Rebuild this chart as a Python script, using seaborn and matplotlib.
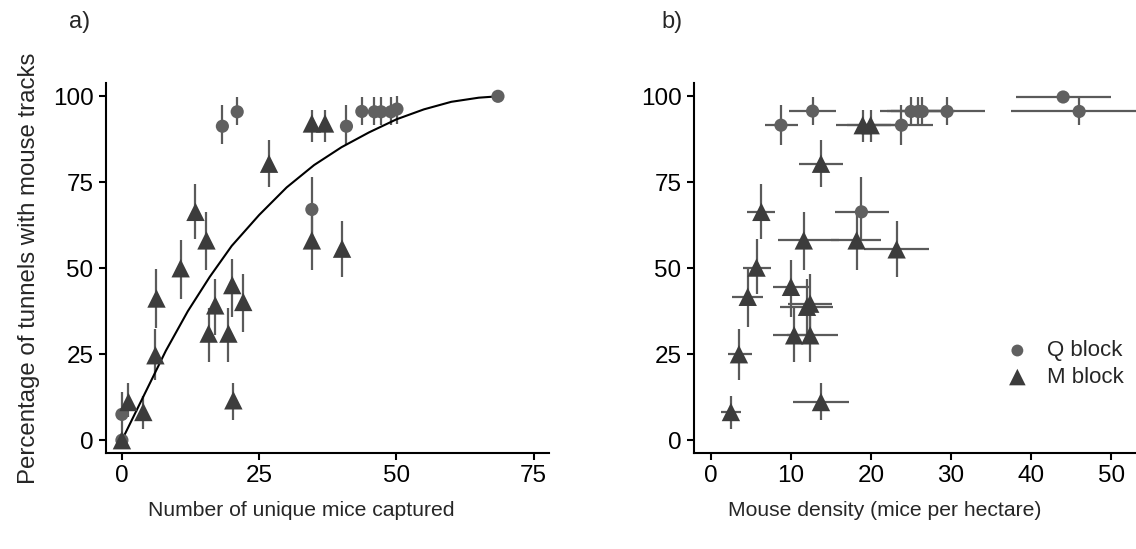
import matplotlib
matplotlib.use("Agg")
import matplotlib.pyplot as plt
import seaborn as sns
import pandas as pd

# panel a) - unique mice captured vs % tunnels tracked (vertical error bars)
q_mice = [0, 0, 18.3, 21.0, 34.6, 40.9, 43.7, 46.0, 47.2, 49.0, 50.1, 68.5]
q_pct_a = [0, 7.5, 91.3, 95.5, 67.1, 91.3, 95.6, 95.5, 95.5, 95.5, 96.3, 100]
q_lo_a = [0, 1, 86, 91.6, 58, 85.8, 91.6, 91.6, 91.6, 91.6, 92, 100]
q_hi_a = [0, 14, 97.5, 99.8, 76.4, 97.4, 99.8, 99.8, 99.8, 99.8, 100, 100]

m_mice = [0, 1.2, 3.9, 6.1, 6.3, 10.7, 13.4, 15.4, 15.8, 17.0, 19.4, 20.1,
          20.3, 22.1, 26.8, 34.6, 37.0, 34.6, 40.1]
m_pct_a = [0, 11.1, 8.2, 24.7, 41.2, 50.0, 66.4, 58.1, 31.0, 39.2, 31.0, 45.1,
           11.6, 40.2, 80.4, 92.1, 92.1, 58.1, 55.7]
m_lo_a = [0, 6.8, 3.4, 17.4, 32.5, 41.2, 58.6, 49.4, 22.8, 30.5, 22.8, 35.8,
          5.8, 31.5, 73.6, 86.7, 86.7, 49.4, 47.5]
m_hi_a = [0, 16.5, 12.8, 32.2, 49.9, 58.1, 74.6, 66.4, 38.3, 47.0, 38.3, 52.8,
          16.5, 48.3, 87.2, 96.1, 96.1, 66.4, 63.8]

# fitted curve
fit_x = [0, 4, 8, 12, 16, 20, 25, 30, 35, 40, 45, 50, 55, 60, 65, 68.5]
fit_y = [0, 13, 26, 37.5, 47.5, 56.5, 65.5, 73.5, 80, 85.2, 89.5, 93.3, 96.2, 98.4, 99.6, 100]

# panel b) - density vs % tunnels tracked (x and y error bars)
q_dens = [8.75, 12.7, 18.8, 23.8, 25.0, 25.9, 26.4, 29.5, 44.0, 46.0]
q_pct_b = [91.6, 95.7, 66.4, 91.6, 95.6, 95.6, 95.6, 95.6, 99.8, 95.6]
q_xlo_b = [6.7, 9.8, 15.5, 19.0, 21.1, 22.0, 22.5, 25.0, 38.1, 37.5]
q_xhi_b = [10.9, 15.6, 22.3, 27.8, 29.0, 30.0, 30.5, 34.2, 50.0, 54.0]
q_ylo_b = [85.8, 91.6, 58, 85.8, 91.6, 91.6, 91.6, 91.6, 99.8, 91.6]
q_yhi_b = [97.4, 99.8, 76.4, 97.4, 99.8, 99.8, 99.8, 99.8, 99.8, 99.8]

m_dens = [2.5, 3.5, 4.6, 5.7, 6.3, 10.0, 10.4, 11.6, 12.0, 12.4, 12.4, 13.75,
          13.75, 18.2, 18.96, 19.96, 23.2]
m_pct_b = [8.2, 25.0, 41.7, 50.2, 66.4, 44.6, 30.5, 58.1, 38.8, 39.7, 30.5, 11.1,
           80.4, 58.1, 91.6, 91.6, 55.5]
m_xlo_b = [1.25, 2.1, 2.6, 4.0, 4.5, 7.8, 7.8, 8.4, 8.6, 9.6, 9.5, 10.2,
           11.0, 15.0, 15.6, 17.0, 19.1]
m_xhi_b = [3.75, 5.1, 6.5, 7.5, 8.0, 12.3, 13.0, 16.0, 15.2, 15.1, 15.9, 17.2,
           16.5, 21.3, 22.5, 23.0, 27.2]
m_ylo_b = [3.4, 17.4, 33.0, 42.6, 58.6, 35.8, 22.8, 49.4, 30.5, 31.5, 22.8, 5.8,
           73.6, 49.4, 86.7, 86.7, 47.5]
m_yhi_b = [12.9, 32.2, 49.9, 58.6, 74.6, 52.5, 38.3, 66.4, 47.0, 48.3, 38.3, 16.5,
           87.2, 66.4, 96.1, 96.1, 63.8]

blocks = ["Q block", "M block"]
colors = {"Q block": "#606060", "M block": "#3c3c3c"}
markers = {"Q block": "o", "M block": "^"}
sizes = {"Q block": 90, "M block": 175}
err_col = "#5a5a5a"

sns.set_theme(style="ticks")
plt.rcParams["font.family"] = ["Liberation Sans", "DejaVu Sans"]

df_a = pd.DataFrame({
    "x": q_mice + m_mice,
    "y": q_pct_a + m_pct_a,
    "lo": q_lo_a + m_lo_a,
    "hi": q_hi_a + m_hi_a,
    "block": ["Q block"] * len(q_mice) + ["M block"] * len(m_mice),
})
df_b = pd.DataFrame({
    "x": q_dens + m_dens,
    "y": q_pct_b + m_pct_b,
    "xlo": q_xlo_b + m_xlo_b,
    "xhi": q_xhi_b + m_xhi_b,
    "lo": q_ylo_b + m_ylo_b,
    "hi": q_yhi_b + m_yhi_b,
    "block": ["Q block"] * len(q_dens) + ["M block"] * len(m_dens),
})
fit_df = pd.DataFrame({"x": fit_x, "y": fit_y})

fig = plt.figure(figsize=(11.36, 5.49), dpi=100)
ax1 = fig.add_axes([0.0933, 0.175, 0.390, 0.674])
ax2 = fig.add_axes([0.611, 0.175, 0.389, 0.674])

# error bars first, points on top
ax1.vlines(df_a["x"], df_a["lo"], df_a["hi"], color=err_col, lw=1.6, zorder=1)
ax2.vlines(df_b["x"], df_b["lo"], df_b["hi"], color=err_col, lw=1.6, zorder=1)
ax2.hlines(df_b["y"], df_b["xlo"], df_b["xhi"], color=err_col, lw=1.6, zorder=1)

sns.lineplot(data=fit_df, x="x", y="y", ax=ax1, color="black", lw=1.5, zorder=2)

for ax, d in [(ax1, df_a), (ax2, df_b)]:
    for b in blocks:
        sub = d[d["block"] == b]
        sns.scatterplot(data=sub, x="x", y="y", ax=ax, color=colors[b],
                        marker=markers[b], s=sizes[b], edgecolor="none",
                        label=b, zorder=3, legend=(ax is ax2))

ax1.set_xlim(-2.9, 77.8)
ax2.set_xlim(-2.1, 53.1)
for ax in (ax1, ax2):
    ax.set_ylim(-3.7, 103.9)
    ax.set_yticks([0, 25, 50, 75, 100])
    sns.despine(ax=ax)
    for sp in ("left", "bottom"):
        ax.spines[sp].set_linewidth(1.5)
        ax.spines[sp].set_color("black")
    ax.tick_params(direction="out", length=5, width=1.5, colors="black",
                   labelsize=17.5, pad=4)
    ax.set_facecolor("white")

ax1.set_xticks([0, 25, 50, 75])
ax2.set_xticks([0, 10, 20, 30, 40, 50])

ax1.set_xlabel("")
ax2.set_xlabel("")
ax2.set_ylabel("")
ax1.set_ylabel("Percentage of tunnels with mouse tracks", fontsize=17.3, labelpad=9)

fig.text(301 / 1136, 1 - 510 / 549, "Number of unique mice captured",
         fontsize=15.2, ha="center", va="center")
fig.text(885 / 1136, 1 - 510 / 549, "Mouse density (mice per hectare)",
         fontsize=15.2, ha="center", va="center")
fig.text(80 / 1136, 1 - 22 / 549, "a)", fontsize=17, ha="center", va="center")
fig.text(672 / 1136, 1 - 22 / 549, "b)", fontsize=17, ha="center", va="center")

leg = ax2.legend(frameon=False, loc="center left",
                 bbox_to_anchor=(0.636, 0.24), fontsize=16,
                 handletextpad=0.35, labelspacing=0.25, markerscale=0.9)

fig.savefig("out.png", dpi=100, facecolor="white")
